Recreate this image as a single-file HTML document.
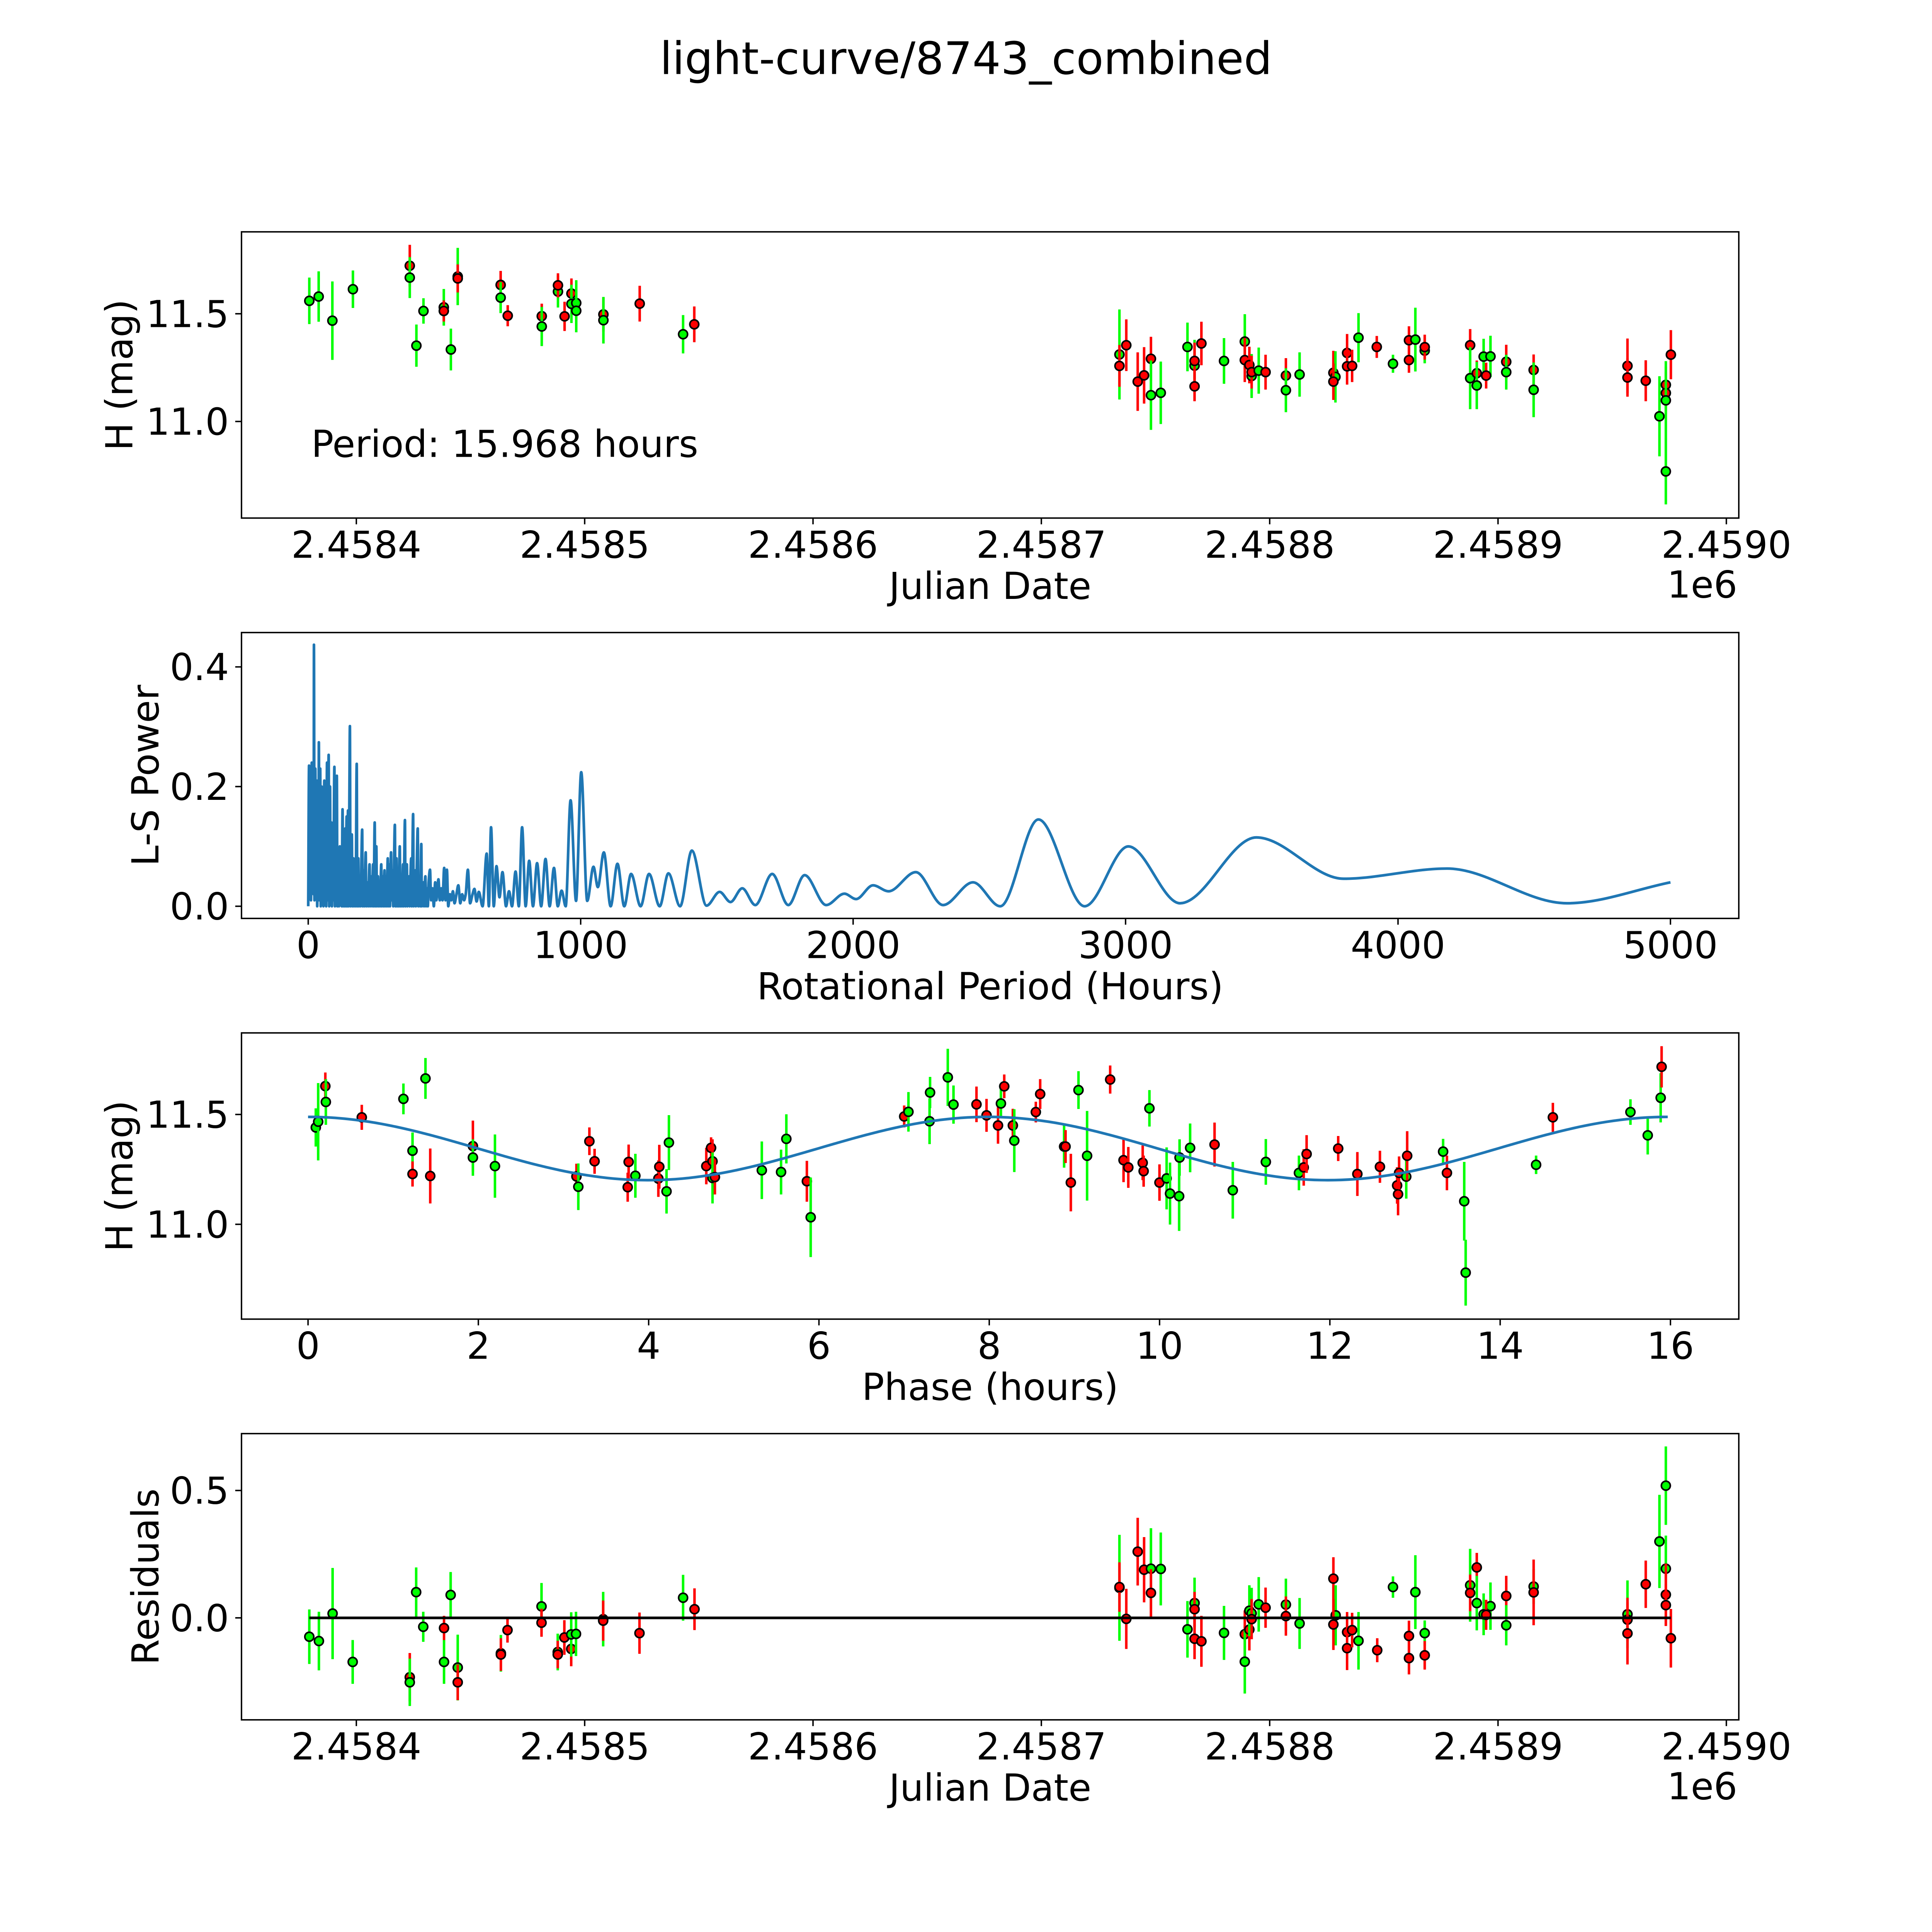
<!DOCTYPE html>
<html><head><meta charset="utf-8"><title>light-curve/8743_combined</title>
<style>
html,body{margin:0;padding:0;background:#fff;overflow:hidden;width:100%;height:100%;}
svg{display:block;width:100vw;height:100vh;font-family:"DejaVu Sans","Liberation Sans",sans-serif;}
</style></head>
<body>
<svg id="fig" xmlns="http://www.w3.org/2000/svg" viewBox="0 0 5400 5400" preserveAspectRatio="none">
<rect x="0" y="0" width="5400" height="5400" fill="#fff"/>
<text x="2700" y="207" font-size="125" text-anchor="middle">light-curve/8743_combined</text>
</svg>
<script>
// ---- Panel 1: light curve (Julian Date vs H mag) ----
const lcJd = [2458379.4,2458383.5,2458389.5,2458398.5,2458423.4,2458423.4,2458426.3,2458429.4,2458438.3,2458438.3,2458441.4,2458444.4,2458444.4,2458463.2,2458463.2,2458466.3,2458481.2,2458481.2,2458488.3,2458488.3,2458491.2,2458494.2,2458494.2,2458496.3,2458496.3,2458508.2,2458508.2,2458524.1,2458543.1,2458548.0,
2458734.2,2458734.2,2458737.2,2458742.2,2458745.0,2458748.0,2458748.0,2458752.3,2458764.0,2458767.1,2458767.1,2458767.1,2458770.1,2458780.0,2458789.1,2458789.1,2458791.1,2458792.1,2458792.1,2458795.2,2458798.2,2458807.1,2458807.1,2458813.1,2458827.9,2458828.8,2458827.9,2458833.9,2458833.9,2458836.1,2458838.9,2458846.9,2458854.0,2458861.0,2458861.0,2458863.8,2458867.9,2458867.9,2458887.8,2458887.8,2458890.7,2458890.7,2458893.7,2458896.7,2458894.8,2458903.6,2458903.6,2458915.6,2458915.6,2458956.7,2458956.7,2458964.7,2458970.7,2458973.5,2458973.5,2458973.5,2458973.5,2458975.7];
const lcMag = [11.560,11.580,11.468,11.614,11.723,11.668,11.352,11.513,11.530,11.513,11.334,11.673,11.664,11.634,11.575,11.491,11.489,11.441,11.603,11.632,11.488,11.594,11.546,11.550,11.514,11.497,11.470,11.547,11.405,11.451,
11.311,11.258,11.354,11.185,11.214,11.291,11.122,11.133,11.346,11.259,11.281,11.163,11.362,11.281,11.371,11.285,11.262,11.211,11.229,11.236,11.229,11.213,11.145,11.218,11.226,11.207,11.185,11.318,11.256,11.258,11.389,11.346,11.268,11.377,11.285,11.380,11.329,11.345,11.354,11.201,11.224,11.167,11.301,11.302,11.213,11.277,11.229,11.239,11.147,11.258,11.204,11.189,11.024,11.170,11.132,11.098,10.768,11.310];
const lcErr = [0.108,0.117,0.182,0.087,0.097,0.095,0.098,0.059,0.085,0.049,0.097,0.133,0.065,0.065,0.072,0.049,0.058,0.091,0.074,0.056,0.068,0.070,0.089,0.106,0.100,0.080,0.108,0.083,0.089,0.083,
0.209,0.097,0.120,0.136,0.131,0.102,0.161,0.145,0.113,0.120,0.085,0.069,0.101,0.106,0.127,0.102,0.085,0.102,0.076,0.107,0.081,0.081,0.102,0.103,0.102,0.119,0.085,0.088,0.085,0.075,0.114,0.051,0.042,0.065,0.059,0.148,0.059,0.058,0.075,0.144,0.059,0.110,0.083,0.096,0.060,0.079,0.081,0.072,0.127,0.127,0.089,0.095,0.186,0.085,0.098,0.182,0.153,0.114];
const lcColor = ["g","g","g","g","r","g","g","g","g","r","g","g","r","r","g","r","r","g","g","r","r","r","g","g","g","r","g","r","g","r",
"g","r","r","r","r","r","g","g","g","g","r","r","r","g","g","r","r","g","r","g","r","r","g","g","r","g","r","r","r","r","g","r","g","r","r","g","g","r","r","g","r","g","g","g","r","r","g","r","g","r","r","r","g","r","r","g","g","r"];
const lcXTicks = [2458400,2458500,2458600,2458700,2458800,2458900,2459000];
const lcXTickLabels = ["2.4584","2.4585","2.4586","2.4587","2.4588","2.4589","2.4590"];
const magTicks = [11.0,11.5];
const magTickLabels = ["11.0","11.5"];

// ---- Panel 2: Lomb-Scargle periodogram ----
const lsPeriod = [0,3,5,8,10,13,15,18,20,21,23,26,28,31,33,36,38,39,41,44,46,49,51,54,56,59,61,64,66,69,71,75,77,80,82,85,87,90,92,96,98,101,103,105,107,111,113,116,118,121,123,126,128,131,133,136,138,141,143,146,148,151,153,155,160,162,166,168,172,174,178,180,184,186,190,192,198,200,204,206,211,213,218,220,225,227,232,234,238,240,244,246,250,252,256,258,262,264,268,270,274,276,280,282,286,288,292,294,298,300,304,306,310,312,318,320,324,326,330,332,336,338,342,344,348,350,355,357,362,364,370,372,378,380,385,387,393,395,402,404,409,411,415,417,423,425,430,432,436,439,442,447,451,456,461,466,470,478,483,488,493,499,504,509,514,520,525,531,537,544,551,558,565,572,578,586,594,603,610,618,626,640,655,663,671,681,691,702,713,726,737,748,761,773,785,798,811,825,840,855,871,886,902,916,930,945,963,983,1002,1024,1047,1063,1085,1110,1135,1160,1185,1220,1251,1290,1322,1365,1408,1462,1510,1550,1593,1641,1703,1762,1822,1901,1968,2011,2073,2130,2230,2330,2440,2540,2680,2850,3010,3200,3480,3800,4180,4620,5000];
const lsPower = [0.0,0.235,0.02,0.20,0.01,0.24,0.03,0.22,0.02,0.437,0.01,0.23,0.02,0.21,0.0,0.19,0.02,0.274,0.01,0.23,0.0,0.20,0.02,0.17,0.0,0.21,0.01,0.16,0.0,0.24,0.01,0.253,0.0,0.20,0.01,0.14,0.0,0.12,0.01,0.233,0.0,0.11,0.01,0.218,0.0,0.09,0.0,0.10,0.01,0.08,0.0,0.162,0.0,0.11,0.0,0.13,0.0,0.15,0.0,0.16,0.0,0.18,0.301,0.0,0.12,0.0,0.08,0.0,0.05,0.0,0.238,0.0,0.08,0.0,0.05,0.0,0.128,0.0,0.06,0.0,0.09,0.0,0.04,0.0,0.07,0.0,0.05,0.0,0.07,0.0,0.140,0.0,0.10,0.0,0.05,0.0,0.04,0.0,0.07,0.0,0.05,0.0,0.06,0.0,0.05,0.0,0.08,0.0,0.07,0.0,0.09,0.01,0.06,0.0,0.136,0.0,0.08,0.0,0.06,0.0,0.10,0.0,0.05,0.0,0.07,0.0,0.144,0.0,0.07,0.0,0.05,0.0,0.08,0.0,0.154,0.0,0.06,0.0,0.130,0.0,0.05,0.0,0.104,0.0,0.04,0.0,0.05,0.0,0.03,0.0,0.04,0.061,0.01,0.03,0.0,0.04,0.01,0.045,0.01,0.03,0.01,0.064,0.01,0.061,0.0,0.02,0.01,0.025,0.005,0.02,0.035,0.005,0.02,0.01,0.02,0.061,0.005,0.02,0.029,0.008,0.024,0.0,0.088,0.0,0.132,0.0,0.067,0.015,0.057,0.0,0.025,0.0,0.058,0.0,0.132,0.0,0.076,0.0,0.072,0.0,0.079,0.0,0.064,0.0,0.026,0.0,0.177,0.009,0.224,0.009,0.066,0.032,0.090,0.0,0.071,0.0,0.054,0.0,0.054,0.0,0.055,0.0,0.093,0.001,0.024,0.007,0.030,0.002,0.054,0.002,0.052,0.002,0.021,0.012,0.035,0.025,0.057,0.002,0.040,0.0,0.145,0.0,0.100,0.005,0.115,0.046,0.063,0.005,0.040];
const lsXTicks = [0,1000,2000,3000,4000,5000];
const lsXTickLabels = ["0","1000","2000","3000","4000","5000"];
const lsYTicks = [0.0,0.2,0.4];
const lsYTickLabels = ["0.0","0.2","0.4"];

// ---- Panel 3: phased light curve ----
const phPhase = [0.091,0.119,0.203,0.209,0.631,1.120,1.227,1.227,1.379,1.435,1.936,1.936,2.195,3.152,3.174,3.304,3.365,3.754,3.765,3.844,4.114,4.125,4.210,4.238,4.677,4.733,4.750,4.750,4.778,5.329,5.555,5.617,5.858,5.903,7.001,7.051,7.299,7.305,7.513,7.580,7.850,7.968,
8.103,8.137,8.176,8.277,8.294,8.547,8.598,8.879,8.896,8.958,9.048,9.149,9.420,9.577,9.633,9.802,9.813,9.881,9.999,10.083,10.123,10.230,10.235,10.359,10.646,10.860,11.248,11.637,11.693,11.727,12.098,12.323,12.588,12.790,12.801,12.813,12.897,12.908,13.330,13.375,13.578,13.595,14.422,14.619,15.530,15.733,15.885,15.896];
const phMag = [11.441,11.467,11.629,11.557,11.487,11.571,11.335,11.229,11.664,11.220,11.356,11.304,11.265,11.218,11.171,11.378,11.287,11.169,11.284,11.221,11.208,11.262,11.150,11.372,11.265,11.348,11.287,11.211,11.215,11.246,11.238,11.389,11.196,11.032,11.491,11.512,11.469,11.600,11.669,11.545,11.546,11.496,
11.450,11.550,11.628,11.450,11.381,11.511,11.593,11.354,11.354,11.190,11.611,11.312,11.659,11.292,11.259,11.280,11.242,11.528,11.190,11.209,11.140,11.128,11.304,11.348,11.363,11.155,11.284,11.234,11.259,11.320,11.345,11.229,11.262,11.177,11.137,11.234,11.217,11.312,11.331,11.234,11.105,10.780,11.271,11.487,11.511,11.405,11.576,11.717];
const phErr = [0.087,0.176,0.062,0.104,0.057,0.070,0.083,0.057,0.093,0.125,0.116,0.083,0.144,0.058,0.106,0.063,0.057,0.066,0.079,0.100,0.083,0.100,0.101,0.125,0.083,0.048,0.100,0.116,0.079,0.131,0.102,0.112,0.093,0.181,0.050,0.090,0.104,0.071,0.130,0.087,0.081,0.075,
0.083,0.066,0.054,0.076,0.143,0.047,0.068,0.096,0.075,0.131,0.086,0.204,0.064,0.100,0.093,0.079,0.071,0.083,0.083,0.141,0.141,0.158,0.083,0.111,0.100,0.129,0.104,0.079,0.083,0.086,0.057,0.100,0.073,0.083,0.096,0.075,0.100,0.112,0.058,0.079,0.179,0.150,0.042,0.066,0.058,0.087,0.112,0.094];
const phColor = ["g","g","r","g","r","g","g","r","g","r","r","g","g","r","g","r","r","r","r","g","r","r","g","g","r","r","r","g","r","g","g","g","r","g","r","g","g","g","g","g","r","r",
"r","g","r","r","g","r","r","g","r","r","g","g","r","r","r","r","r","g","r","g","g","g","g","g","r","g","g","g","r","r","r","r","r","r","r","r","g","r","g","r","g","g","g","r","g","g","g","r"];
const phXTicks = [0,2,4,6,8,10,12,14,16];
const phXTickLabels = ["0","2","4","6","8","10","12","14","16"];
const fitParams = [11.345, 0.144, 15.968]; // mean, amplitude, period (2 cycles per period)

// ---- Panel 4: residuals ----
const resJd = [2458379.4,2458383.6,2458389.6,2458398.4,2458423.4,2458423.4,2458426.2,2458429.3,2458438.4,2458438.4,2458441.3,2458444.4,2458444.4,2458463.3,2458463.3,2458466.2,2458481.1,2458481.1,2458488.2,2458488.2,2458491.1,2458494.1,2458494.1,2458496.2,2458508.1,2458508.1,2458524.0,2458543.1,2458548.1,
2458734.2,2458734.2,2458737.2,2458742.2,2458745.0,2458748.0,2458748.0,2458752.3,2458764.0,2458767.1,2458767.1,2458767.1,2458770.1,2458780.0,2458789.1,2458789.1,2458791.1,2458791.1,2458792.1,2458792.1,2458795.2,2458798.2,2458807.1,2458807.1,2458813.1,2458827.9,2458828.9,2458827.9,2458833.9,2458833.9,2458836.1,2458838.9,2458847.1,2458854.0,2458861.0,2458861.0,2458863.8,2458867.9,2458867.9,2458887.8,2458887.8,2458890.7,2458890.7,2458893.7,2458896.7,2458894.8,2458903.6,2458903.6,2458915.6,2458915.6,2458956.7,2458956.7,2458956.7,2458964.7,2458970.7,2458973.5,2458973.5,2458973.5,2458973.5,2458975.7];
const resVal = [-0.074,-0.091,0.017,-0.173,-0.233,-0.253,0.101,-0.035,-0.040,-0.173,0.090,-0.195,-0.253,-0.139,-0.144,-0.048,0.045,-0.019,-0.134,-0.144,-0.077,-0.122,-0.065,-0.063,-0.005,-0.011,-0.060,0.079,0.034,
0.118,0.121,-0.004,0.260,0.189,0.193,0.098,0.192,-0.045,0.058,0.034,-0.082,-0.092,-0.059,-0.064,-0.172,-0.046,0.028,0.018,-0.005,0.053,0.040,0.052,0.007,-0.022,0.154,0.010,-0.026,-0.056,-0.119,-0.048,-0.090,-0.127,0.121,-0.071,-0.158,0.101,-0.060,-0.147,0.128,0.098,0.198,0.058,0.014,0.046,0.012,0.086,-0.029,0.123,0.100,0.014,-0.007,-0.061,0.132,0.300,0.519,0.193,0.091,0.050,-0.080];
const resErr = [0.107,0.115,0.179,0.086,0.095,0.093,0.097,0.059,0.048,0.086,0.090,0.129,0.070,0.072,0.064,0.049,0.092,0.055,0.072,0.054,0.068,0.068,0.087,0.087,0.107,0.079,0.081,0.090,0.082,
0.208,0.097,0.118,0.133,0.128,0.159,0.093,0.143,0.111,0.100,0.068,0.080,0.100,0.106,0.093,0.125,0.082,0.100,0.100,0.079,0.107,0.079,0.102,0.077,0.100,0.084,0.118,0.100,0.079,0.086,0.068,0.113,0.047,0.042,0.060,0.064,0.145,0.050,0.056,0.143,0.072,0.057,0.107,0.082,0.093,0.059,0.079,0.079,0.068,0.129,0.133,0.086,0.122,0.093,0.183,0.154,0.130,0.122,0.082,0.115];
const resColor = ["g","g","g","g","r","g","g","g","r","g","g","g","r","g","r","r","g","r","g","r","r","r","g","g","g","r","r","g","r",
"g","r","r","r","r","g","r","g","g","g","r","r","r","g","r","g","r","g","g","r","g","r","g","r","g","r","g","r","r","r","r","g","r","g","r","r","g","g","r","g","r","r","g","g","g","r","r","g","g","r","g","r","r","r","g","g","g","r","r","r"];
const resYTicks = [0.0,0.5];
const resYTickLabels = ["0.0","0.5"];

// ---- layout ----
const L = 675, R = 4860;
const FS = 104;
const panels = [{top:648,bot:1448},{top:1768,bot:2567},{top:2887,bot:3687},{top:4007,bot:4807}];
const svg = document.getElementById('fig');
const NS = 'http://www.w3.org/2000/svg';
const COL = {g:'#00ff00', r:'#ff0000'};
function mk(tag, attrs, parent){ const e = document.createElementNS(NS, tag); for (const k in attrs) e.setAttribute(k, attrs[k]); (parent||svg).appendChild(e); return e; }

const xJd = jd => 996 + (jd - 2458400) * 6.382;
const y1 = m => 877 + (11.5 - m) * 602;
const xP = p => 861.5 + p * 0.7615;
const y2 = v => 2533 - v * 1672.5;
const xPh = ph => 861 + ph * 238;
const y3 = m => 3115 + (11.5 - m) * 614;
const y4 = r => 4522 - r * 712;

function frame(p, name){
  const r = mk('rect', {x:L, y:p.top, width:R-L, height:p.bot-p.top, fill:'none', stroke:'#000', 'stroke-width':4});
  
  
}
function xticks(p, ticks, labels, fx, name){
  const g = mk('g', {});
  
  
  ticks.forEach((t,i)=>{
    const x = fx(t);
    const ln = mk('line', {x1:x, x2:x, y1:p.bot, y2:p.bot+17.5, stroke:'#000', 'stroke-width':4}, g);
    
    
    const tx = mk('text', {x:x, y:p.bot+111, 'font-size':FS, 'text-anchor':'middle'}, g);
    
    
    tx.textContent = labels[i];
  });
}
function yticks(p, ticks, labels, fy, name){
  const g = mk('g', {});
  
  
  ticks.forEach((t,i)=>{
    const y = fy(t);
    const ln = mk('line', {x1:L-17.5, x2:L, y1:y, y2:y, stroke:'#000', 'stroke-width':4}, g);
    
    
    const tx = mk('text', {x:L-35, y:y+37, 'font-size':FS, 'text-anchor':'end'}, g);
    
    
    tx.textContent = labels[i];
  });
}
function xlabel(p, txt, name){
  const t = mk('text', {x:(L+R)/2, y:p.bot+226, 'font-size':FS, 'text-anchor':'middle'});
  
  
  t.textContent = txt;
}
function ylabel(p, txt, xb, name){
  const yc = (p.top+p.bot)/2;
  const t = mk('text', {x:xb, y:yc, 'font-size':FS, 'text-anchor':'middle', transform:'rotate(-90 '+xb+' '+yc+')'});
  
  
  t.textContent = txt;
}
function offsetText(p, name){
  const t = mk('text', {x:4856, y:p.bot+222, 'font-size':FS, 'text-anchor':'end'});
  
  
  t.textContent = '1e6';
}
function points(xs, ys, es, cs, fx, fy, name){
  const g = mk('g', {});
  
  
  for (let i=0;i<xs.length;i++){
    const x = fx(xs[i]);
    const eb = mk('line', {x1:x, x2:x, y1:fy(ys[i]+es[i]), y2:fy(ys[i]-es[i]), stroke:COL[cs[i]], 'stroke-width':7}, g);
    
    
    const c = mk('circle', {cx:x, cy:fy(ys[i]), r:12.5, fill:COL[cs[i]], stroke:'#000', 'stroke-width':4.5}, g);
    
    
  }
}
function monotonePath(xs, ys){
  const n = xs.length; const d = [], m = [];
  for (let i=0;i<n-1;i++) d.push((ys[i+1]-ys[i])/(xs[i+1]-xs[i]));
  m[0]=d[0]; m[n-1]=d[n-2];
  for (let i=1;i<n-1;i++){ m[i] = (d[i-1]*d[i] <= 0) ? 0 : 2/(1/d[i-1]+1/d[i]); }
  let s = 'M'+xs[0]+','+ys[0];
  for (let i=0;i<n-1;i++){
    const h = xs[i+1]-xs[i];
    s += ' C'+(xs[i]+h/3)+','+(ys[i]+m[i]*h/3)+' '+(xs[i+1]-h/3)+','+(ys[i+1]-m[i+1]*h/3)+' '+xs[i+1]+','+ys[i+1];
  }
  return s;
}

// Panel 1
frame(panels[0], 'light-curve');
xticks(panels[0], lcXTicks, lcXTickLabels, xJd, 'light-curve');
yticks(panels[0], magTicks, magTickLabels, y1, 'light-curve');
xlabel(panels[0], 'Julian Date', 'light-curve-x-title');
ylabel(panels[0], 'H (mag)', 370, 'light-curve-y-title');
offsetText(panels[0], 'light-curve-x-offset');
points(lcJd, lcMag, lcErr, lcColor, xJd, y1, 'light-curve-points');
const per = mk('text', {x:870, y:1277, 'font-size':FS});


per.textContent = 'Period: 15.968 hours';

// Panel 2
frame(panels[1], 'periodogram');
xticks(panels[1], lsXTicks, lsXTickLabels, xP, 'periodogram');
yticks(panels[1], lsYTicks, lsYTickLabels, y2, 'periodogram');
xlabel(panels[1], 'Rotational Period (Hours)', 'periodogram-x-title');
ylabel(panels[1], 'L-S Power', 443, 'periodogram-y-title');
const lsPath = mk('path', {d:monotonePath(lsPeriod.map(xP), lsPower.map(y2)), fill:'none', stroke:'#1f77b4', 'stroke-width':7.5, 'stroke-linejoin':'round'});



// Panel 3
frame(panels[2], 'phase-plot');
xticks(panels[2], phXTicks, phXTickLabels, xPh, 'phase-plot');
yticks(panels[2], magTicks, magTickLabels, y3, 'phase-plot');
xlabel(panels[2], 'Phase (hours)', 'phase-plot-x-title');
ylabel(panels[2], 'H (mag)', 370, 'phase-plot-y-title');
points(phPhase, phMag, phErr, phColor, xPh, y3, 'phase-plot-points');
{
  const pts = [];
  for (let i=0;i<=200;i++){ const ph = fitParams[2]*i/200; pts.push(xPh(ph).toFixed(1)+','+y3(fitParams[0]+fitParams[1]*Math.cos(4*Math.PI*ph/fitParams[2])).toFixed(1)); }
  const fit = mk('polyline', {points:pts.join(' '), fill:'none', stroke:'#1f77b4', 'stroke-width':7.5});
  
  
}

// Panel 4
frame(panels[3], 'residuals');
xticks(panels[3], lcXTicks, lcXTickLabels, xJd, 'residuals');
yticks(panels[3], resYTicks, resYTickLabels, y4, 'residuals');
xlabel(panels[3], 'Julian Date', 'residuals-x-title');
ylabel(panels[3], 'Residuals', 443, 'residuals-y-title');
offsetText(panels[3], 'residuals-x-offset');
points(resJd, resVal, resErr, resColor, xJd, y4, 'residual-points');
{
  const z = mk('line', {x1:xJd(Math.min(...resJd)), x2:xJd(Math.max(...resJd)), y1:y4(0), y2:y4(0), stroke:'#000', 'stroke-width':7.5});
  
  
}
</script>
</body></html>
